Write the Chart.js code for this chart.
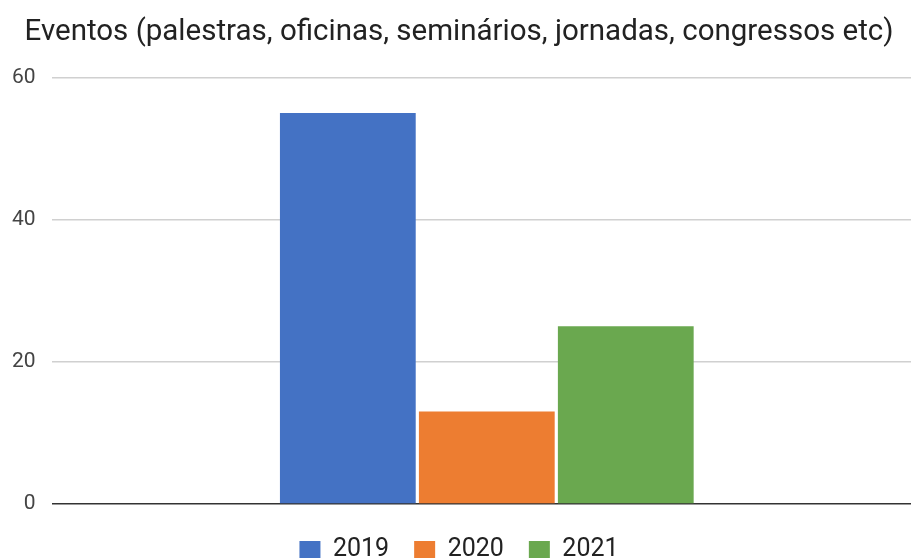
<!DOCTYPE html>
<html>
<head>
<meta charset="utf-8">
<script src="https://cdn.jsdelivr.net/npm/chart.js@4/dist/chart.umd.min.js"></script>
<style>
  html, body { margin: 0; padding: 0; background: #fff; overflow: hidden; }
  #wrap { width: 922px; height: 572px; }
</style>
</head>
<body>
<div id="wrap"><canvas id="chartEventos"></canvas></div>
<script>
// one group, one bar per year
const categories = [''];
const years = ['2019', '2020', '2021'];
const eventos2019 = [55];
const eventos2020 = [13];
const eventos2021 = [25];
const yTicks = [0, 20, 40, 60];

const colors = ['#4472c4', '#ed7d31', '#6aa84f'];
const series = [eventos2019, eventos2020, eventos2021];

let myChart = new Chart(document.getElementById('chartEventos'), {
  type: 'bar',
  data: {
    labels: categories,
    datasets: years.map((y, i) => ({
      label: y,
      data: series[i],
      backgroundColor: colors[i],
      borderWidth: 0,
      barPercentage: 0.977,
      categoryPercentage: 0.479,
    })),
  },
  options: {
    responsive: true,
    maintainAspectRatio: false,
    animation: false,
    layout: { padding: { left: -4, right: 0, top: 0, bottom: 0 } },
    scales: {
      x: {
        ticks: { display: false },
        grid: { display: false },
        border: { display: false },
      },
      y: {
        min: 0,
        max: 60,
        afterBuildTicks: (axis) => { axis.ticks = yTicks.map(v => ({ value: v })); },
        ticks: {
          color: '#444',
          padding: 16,
          font: { family: 'Roboto', size: 21 },
        },
        grid: {
          // zero line darker than the rest
          color: (ctx) => ctx.tick && ctx.tick.value === 0 ? '#333' : '#d0d0d0',
          lineWidth: 1.6,
          drawTicks: false,
        },
        border: { display: false },
      },
    },
    plugins: {
      title: {
        display: true,
        text: 'Eventos (palestras, oficinas, seminários, jornadas, congressos etc)',
        color: '#222',
        font: { family: 'Roboto', size: 29.5, weight: 'normal' },
        padding: { top: 15, bottom: 27 },
      },
      legend: {
        position: 'bottom',
        labels: {
          color: '#222',
          boxWidth: 21,
          boxHeight: 17,
          padding: 25,
          font: { family: 'Roboto', size: 25 },
        },
      },
      tooltip: { enabled: false },
    },
  },
});
</script>
</body>
</html>
